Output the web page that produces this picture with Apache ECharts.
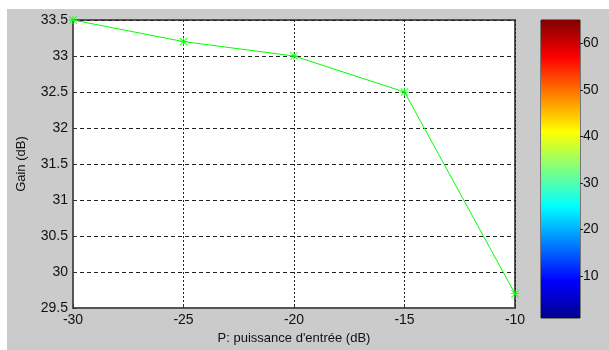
<!DOCTYPE html>
<html>
<head>
<meta charset="utf-8">
<script src="https://cdn.jsdelivr.net/npm/echarts@6/dist/echarts.min.js"></script>
<style>
  html, body { margin: 0; padding: 0; background: #ffffff; }
  #chart { position: absolute; left: 7px; top: 9px; width: 602px; height: 341px; }
</style>
</head>
<body>
<div id="chart"></div>
<script>
// Input power (dB) and measured gain (dB)
const inputPower = [-30, -25, -20, -15, -10];
const gain = [33.5, 33.2, 33.0, 32.5, 29.7];

// Colour bar scale (jet colormap, 1..65)
const colorbarRange = [1, 65];
const colorbarTicks = [10, 20, 30, 40, 50, 60];
const jetStops = [
  [0.000, '#800000'],
  [0.125, '#ff0000'],
  [0.375, '#ffff00'],
  [0.625, '#00ffff'],
  [0.875, '#0000ff'],
  [1.000, '#00008f']
];

const FONT = '"Liberation Sans", Arial, sans-serif';
const asterisk = 'path://M4.5 0h1v10h-1z M0 4.5h10v1h-10z M0.7 0L10 9.3L9.3 10L0 0.7z M9.3 0L10 0.7L0.7 10L0 9.3z';

const chart = echarts.init(document.getElementById('chart'), null, { renderer: 'canvas' });

chart.setOption({
  backgroundColor: '#cbcbcb',
  animation: false,
  grid: [
    { left: 63, top: 11, right: 94, bottom: 32, show: true, backgroundColor: '#ffffff',
      borderColor: '#555555', borderWidth: 2 },
    { left: 534, top: 11, width: 39, bottom: 32, show: true, backgroundColor: 'transparent',
      borderColor: '#222222', borderWidth: 1 }
  ],
  xAxis: [
    {
      gridIndex: 0, type: 'value', min: -30, max: -10, interval: 5,
      name: "P: puissance d'entrée (dB)", nameLocation: 'middle', nameGap: 18,
      nameTextStyle: { fontFamily: FONT, fontSize: 13, color: '#111' },
      axisLine: { show: true, lineStyle: { color: '#555555', width: 2 } },
      axisTick: { show: true, inside: true, length: 4, lineStyle: { color: '#333' } },
      axisLabel: { fontFamily: FONT, fontSize: 14, color: '#111', margin: 5 },
      splitLine: { show: true, lineStyle: { color: '#222222', type: [2, 2], width: 1 } }
    },
    {
      gridIndex: 1, type: 'category', data: ['c'], show: false
    }
  ],
  yAxis: [
    {
      gridIndex: 0, type: 'value', min: 29.5, max: 33.5, interval: 0.5,
      name: 'Gain (dB)', nameLocation: 'middle', nameGap: 45,
      nameTextStyle: { fontFamily: FONT, fontSize: 13, color: '#111' },
      axisLine: { show: true, lineStyle: { color: '#555555', width: 2 } },
      axisTick: { show: true, inside: true, length: 4, lineStyle: { color: '#333' } },
      axisLabel: { fontFamily: FONT, fontSize: 14, color: '#111', margin: 5 },
      splitLine: { show: true, lineStyle: { color: '#222222', type: [4, 3], width: 1 } }
    },
    {
      gridIndex: 1, type: 'value', position: 'right', min: colorbarRange[0], max: colorbarRange[1],
      z: 5,
      axisLine: { show: false },
      axisTick: { show: true, inside: false, length: 3, lineStyle: { color: '#222' },
        customValues: colorbarTicks },
      axisLabel: { fontFamily: FONT, fontSize: 14, color: '#111', margin: 3,
        customValues: colorbarTicks },
      splitLine: { show: false }
    }
  ],
  series: [
    {
      type: 'line',
      xAxisIndex: 0, yAxisIndex: 0,
      data: inputPower.map((x, i) => [x, gain[i]]),
      symbol: asterisk, symbolSize: 8,
      itemStyle: { color: '#00ff00' },
      lineStyle: { color: '#00ff00', width: 1 },
      clip: false, z: 4
    },
    {
      type: 'bar',
      xAxisIndex: 1, yAxisIndex: 1,
      data: [colorbarRange[1]],
      barWidth: '100%',
      silent: true,
      itemStyle: {
        color: new echarts.graphic.LinearGradient(0, 0, 0, 1,
          jetStops.map(s => ({ offset: s[0], color: s[1] })))
      }
    }
  ]
});
</script>
</body>
</html>
